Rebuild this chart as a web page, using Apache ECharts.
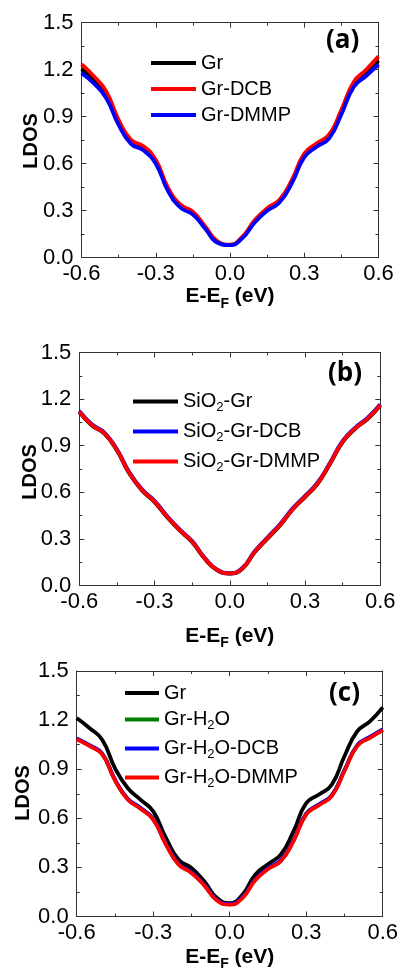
<!DOCTYPE html>
<html>
<head>
<meta charset="utf-8">
<script src="https://cdn.jsdelivr.net/npm/echarts@6/dist/echarts.min.js"></script>
<style>
html,body{margin:0;padding:0;background:#fff;}
#chart{width:401px;height:973px;}
</style>
</head>
<body>
<div id="chart"></div>
<script>
// Energy grid (eV)
const energy = [-0.6,-0.55,-0.5,-0.45,-0.4,-0.35,-0.3,-0.25,-0.2,-0.15,-0.1,-0.05,0,0.05,0.1,0.15,0.2,0.25,0.3,0.35,0.4,0.45,0.5,0.55,0.6];

// Panel (a)
const aGr    = [1.205,1.135,1.040,0.864,0.740,0.698,0.612,0.434,0.329,0.284,0.192,0.099,0.082,0.130,0.232,0.308,0.361,0.486,0.652,0.719,0.772,0.930,1.106,1.180,1.258];
const aDCB   = [1.235,1.158,1.062,0.880,0.752,0.712,0.625,0.445,0.338,0.294,0.200,0.104,0.083,0.134,0.240,0.316,0.370,0.497,0.665,0.730,0.785,0.944,1.122,1.200,1.285];
const aDMMP  = [1.178,1.112,1.018,0.848,0.727,0.685,0.600,0.424,0.320,0.275,0.185,0.095,0.080,0.125,0.225,0.300,0.352,0.475,0.640,0.708,0.760,0.915,1.090,1.160,1.232];

// Panel (b)
const bGr    = [1.116,1.030,0.977,0.869,0.719,0.612,0.537,0.440,0.354,0.279,0.173,0.098,0.077,0.108,0.215,0.301,0.387,0.487,0.569,0.655,0.784,0.923,1.009,1.073,1.159];
const bDCB   = [1.124,1.038,0.985,0.877,0.727,0.620,0.545,0.448,0.361,0.286,0.179,0.102,0.079,0.113,0.222,0.309,0.395,0.495,0.577,0.663,0.792,0.931,1.017,1.081,1.167];
const bDMMP  = [1.119,1.033,0.980,0.872,0.722,0.615,0.540,0.443,0.357,0.282,0.175,0.100,0.078,0.110,0.218,0.304,0.390,0.490,0.572,0.658,0.787,0.926,1.012,1.076,1.162];

// Panel (c)
const cGr       = [1.213,1.152,1.080,0.907,0.785,0.714,0.642,0.480,0.347,0.296,0.215,0.113,0.082,0.133,0.256,0.320,0.378,0.520,0.693,0.745,0.805,0.979,1.131,1.192,1.278];
const cH2O      = [1.086,1.045,0.993,0.835,0.718,0.662,0.595,0.443,0.320,0.269,0.193,0.101,0.075,0.116,0.224,0.293,0.341,0.463,0.626,0.683,0.738,0.892,1.044,1.095,1.141];
const cH2ODCB   = [1.088,1.047,0.995,0.837,0.720,0.664,0.597,0.445,0.322,0.271,0.195,0.103,0.077,0.118,0.226,0.295,0.343,0.465,0.628,0.685,0.740,0.894,1.046,1.097,1.143];
const cH2ODMMP  = [1.083,1.042,0.990,0.832,0.715,0.659,0.592,0.440,0.317,0.266,0.190,0.098,0.072,0.113,0.221,0.290,0.338,0.460,0.623,0.680,0.735,0.889,1.041,1.092,1.138];

const panelLabels = ['(a)','(b)','(c)'];
const yTitle = 'LDOS';

const FONT = '"Liberation Sans", Arial, sans-serif';
const chart = echarts.init(document.getElementById('chart'), null, {renderer:'canvas'});

const grids = [
  {left:81.5, top:22.7, width:297, height:235},
  {left:79.3, top:352.5, width:301, height:233},
  {left:76.7, top:671, width:307.5, height:245.5}
];
const xNameGap = [27, 39, 29];

const xAxes = [], yAxes = [];
grids.forEach((g, i) => {
  const common = {
    type:'value', gridIndex:i, min:-0.6, max:0.6, interval:0.3,
    axisLine:{show:true, onZero:false, lineStyle:{color:'#333', width:1}},
    axisTick:{show:true, inside:true, length:5, lineStyle:{color:'#333', width:1}},
    minorTick:{show:true, splitNumber:2, length:3, lineStyle:{color:'#333', width:1}},
    splitLine:{show:false}
  };
  xAxes.push(Object.assign({}, common, {
    position:'bottom',
    axisLabel:{show:true, fontSize:22, fontFamily:FONT, color:'#000', margin:5,
      formatter:v => v.toFixed(1)},
    name:'{b|E-E}{s|F}{b| (eV)}', nameLocation:'middle', nameGap:xNameGap[i],
    nameMoveOverlap:false,
    nameTextStyle:{rich:{
      b:{fontSize:21, fontWeight:'bold', fontFamily:FONT, color:'#000', lineHeight:24},
      s:{fontSize:14, fontWeight:'bold', fontFamily:FONT, color:'#000', lineHeight:14, padding:[14,0,0,0]}
    }}
  }));
  xAxes.push(Object.assign({}, common, {position:'top', axisLabel:{show:false}}));
  const ycommon = {
    type:'value', gridIndex:i, min:0, max:1.5, interval:0.3,
    axisLine:{show:true, onZero:false, lineStyle:{color:'#333', width:1}},
    axisTick:{show:true, inside:true, length:5, lineStyle:{color:'#333', width:1}},
    minorTick:{show:true, splitNumber:2, length:3, lineStyle:{color:'#333', width:1}},
    splitLine:{show:false}
  };
  yAxes.push(Object.assign({}, ycommon, {
    position:'left',
    axisLabel:{show:true, fontSize:22, fontFamily:FONT, color:'#000', margin:8,
      formatter:v => v.toFixed(1)}
  }));
  yAxes.push(Object.assign({}, ycommon, {position:'right', axisLabel:{show:false}}));
});

function mk(name, arr, color, panel){
  return {
    name, type:'line', xAxisIndex:2*panel, yAxisIndex:2*panel,
    data: energy.map((e,k)=>[e, arr[k]]),
    smooth:0.5, symbol:'none', showSymbol:false,
    lineStyle:{color, width:3.8}, itemStyle:{color},
    emphasis:{disabled:true}, silent:true, animation:false
  };
}

const series = [
  mk('Gr', aGr, '#000000', 0),
  mk('Gr-DCB', aDCB, '#ff0000', 0),
  mk('Gr-DMMP', aDMMP, '#0000ff', 0),
  mk('SiO2-Gr', bGr, '#000000', 1),
  mk('SiO2-Gr-DCB', bDCB, '#0000ff', 1),
  mk('SiO2-Gr-DMMP', bDMMP, '#ff0000', 1),
  mk('Gr ', cGr, '#000000', 2),
  mk('Gr-H2O', cH2O, '#008000', 2),
  mk('Gr-H2O-DCB', cH2ODCB, '#0000ff', 2),
  mk('Gr-H2O-DMMP', cH2ODMMP, '#ff0000', 2)
];

const legendRich = {
  n:{fontSize:20, fontFamily:FONT, color:'#000', lineHeight:22},
  s:{fontSize:13, fontFamily:FONT, color:'#000', lineHeight:13, padding:[12,0,0,0]}
};
function legFmt(n){
  n = n.trim();
  if (n.indexOf('2') < 0) return '{n|' + n + '}';
  return '{n|' + n.replace('2', '}{s|2}{n|') + '}';
}
const legends = [
  {data:['Gr','Gr-DCB','Gr-DMMP'], left:151, top:53, itemWidth:45, itemGap:6},
  {data:['SiO2-Gr','SiO2-Gr-DCB','SiO2-Gr-DMMP'], left:133, top:389, itemWidth:45, itemGap:5},
  {data:['Gr ','Gr-H2O','Gr-H2O-DCB','Gr-H2O-DMMP'], left:125, top:683, itemWidth:34, itemGap:4}
].map(l => Object.assign({
  orient:'vertical', icon:'rect', itemHeight:4, selectedMode:false,
  formatter:legFmt, textStyle:{rich:legendRich, fontSize:20, fontFamily:FONT, color:'#000'},
  padding:0
}, l));

const labelPos = [[342,45],[344,378],[345,698]];
const yTitlePos = [[31,141],[30,472],[23.5,793]];
const graphic = panelLabels.map((t,i)=>({
  type:'text', left:labelPos[i][0]-16, top:labelPos[i][1]-17,
  style:{text:t, fontSize:26, fontWeight:'bold', fontFamily:'"Open Sans", sans-serif', fill:'#000'}
})).concat(yTitlePos.map(p=>({
  type:'text', x:p[0], y:p[1], rotation:Math.PI/2,
  style:{text:yTitle, fontSize:20, fontWeight:'bold', fontFamily:FONT, fill:'#000',
    textAlign:'center', textVerticalAlign:'middle'}
})));

chart.setOption({
  animation:false,
  backgroundColor:'#fff',
  grid:grids,
  xAxis:xAxes,
  yAxis:yAxes,
  legend:legends,
  series,
  graphic
});
</script>
</body>
</html>
